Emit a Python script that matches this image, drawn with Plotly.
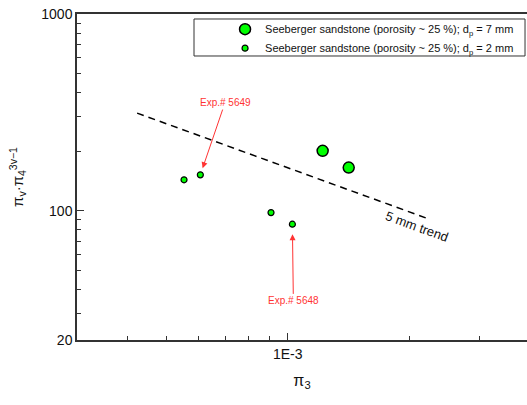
import math
import plotly.graph_objects as go

# ---- data ----
pi3_7mm = [1.221e-3, 1.417e-3]
y_7mm = [201.8, 166.0]
pi3_2mm = [5.53e-4, 6.07e-4, 9.09e-4, 1.027e-3]
y_2mm = [143.8, 152.4, 98.0, 85.6]
trend_x = [4.23e-4, 2.213e-3]
trend_y = [313.8, 91.8]

name_7mm = "Seeberger sandstone (porosity ~ 25 %); d<sub>p</sub> = 7 mm"
name_2mm = "Seeberger sandstone (porosity ~ 25 %); d<sub>p</sub> = 2 mm"

x_tick_vals = [1e-3]
x_tick_labels = ["1E-3"]
x_minor_vals = [4e-4, 5e-4, 6e-4, 7e-4, 8e-4, 9e-4, 2e-3, 3e-3]
y_bottom = 10 ** 1.3442
y_tick_vals = [y_bottom, 100, 1000]
y_tick_labels = ["20", "100", "1000"]
y_minor_vals = [30, 40, 50, 60, 70, 80, 90, 200, 300, 400, 500, 600, 700, 800, 900]

FONT = "Liberation Sans, Arial, sans-serif"
GREEN = "#00FF00"
RED = "#FF3333"

fig = go.Figure()
fig.add_trace(go.Scatter(
    x=trend_x, y=trend_y, mode="lines", showlegend=False,
    line=dict(color="black", width=1.5, dash="7px,5px"), hoverinfo="skip"))
fig.add_trace(go.Scatter(
    x=pi3_7mm, y=y_7mm, mode="markers", name=name_7mm,
    marker=dict(size=11, color=GREEN, line=dict(color="black", width=1.5))))
fig.add_trace(go.Scatter(
    x=pi3_2mm, y=y_2mm, mode="markers", name=name_2mm,
    marker=dict(size=6, color=GREEN, line=dict(color="black", width=1.2))))

axis_common = dict(
    showline=True, linecolor="#333", linewidth=1.5,
    showgrid=False, zeroline=False, ticks="inside", ticklen=7, tickwidth=1.2,
    tickcolor="#333", tickfont=dict(family=FONT, size=14, color="#111"),
)

fig.update_xaxes(
    type="log", range=[math.log10(3e-4), -2.4062], mirror=True,
    tickmode="array", tickvals=x_tick_vals, ticktext=x_tick_labels,
    minor=dict(tickmode="array", tickvals=x_minor_vals, ticks="inside",
               ticklen=4, tickwidth=1.2, tickcolor="#333"),
    title=dict(text="π<sub>3</sub>", font=dict(family=FONT, size=16, color="#111"), standoff=14),
    **axis_common)
fig.update_yaxes(
    type="log", range=[1.3442, 3], mirror=False,
    tickmode="array", tickvals=y_tick_vals, ticktext=y_tick_labels,
    minor=dict(tickmode="array", tickvals=y_minor_vals, ticks="inside",
               ticklen=4, tickwidth=1.2, tickcolor="#333"),
    title=dict(text="π<sub>v</sub>·π<sub>4</sub><sup>3v−1</sup>",
               font=dict(family=FONT, size=15, color="#111"), standoff=14),
    **axis_common)

annotations = [
    dict(x=math.log10(pi3_2mm[1]), y=math.log10(y_2mm[1]), xref="x", yref="y",
         text="Exp.# 5649", showarrow=True, ax=24.7, ay=-72.3,
         arrowhead=2, arrowsize=1.2, arrowwidth=1, arrowcolor=RED, standoff=7,
         font=dict(family=FONT, size=10, color=RED)),
    dict(x=math.log10(pi3_2mm[3]), y=math.log10(y_2mm[3]), xref="x", yref="y",
         text="Exp.# 5648", showarrow=True, ax=1, ay=76.7,
         arrowhead=2, arrowsize=1.2, arrowwidth=1, arrowcolor=RED, standoff=10,
         font=dict(family=FONT, size=10, color=RED)),
    dict(x=-2.6799, y=1.9202, xref="x", yref="y", text="5 mm trend",
         showarrow=False, textangle=20, font=dict(family=FONT, size=13, color="#111")),
]

fig.update_layout(
    width=527, height=405,
    margin=dict(l=77, r=0, t=14, b=65),
    paper_bgcolor="white", plot_bgcolor="white",
    font=dict(family=FONT, color="#111"),
    annotations=annotations,
    legend=dict(x=0.329, y=0.998, xanchor="left", yanchor="top",
                bgcolor="rgba(0,0,0,0)", borderwidth=0,
                font=dict(family=FONT, size=11, color="#111")),
    shapes=[dict(type="rect", xref="paper", yref="paper",
                 x0=0.26, x1=0.9956, y0=0.8712, y1=0.9847,
                 line=dict(color="#333", width=1), fillcolor="rgba(0,0,0,0)")],
)

fig.write_html(
    "out.html",
    config={"displayModeBar": False},
    post_script="document.body.style.margin='0';document.body.style.overflow='hidden';",
)
